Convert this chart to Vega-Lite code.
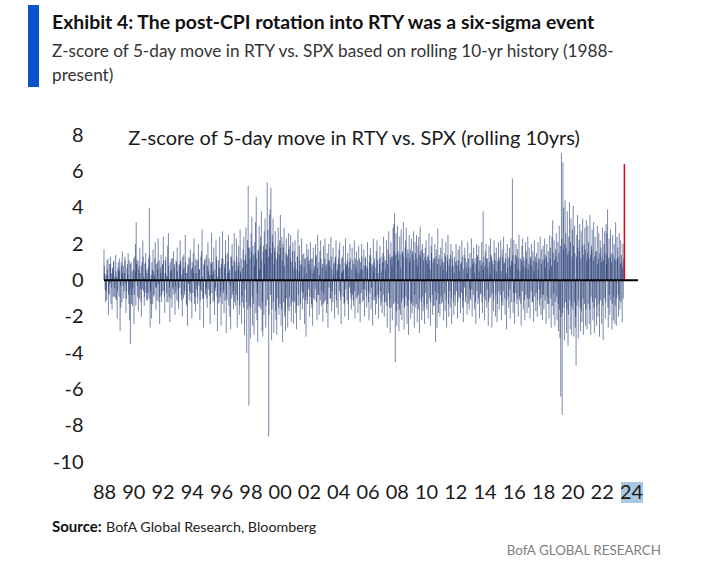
{
"$schema": "https://vega.github.io/schema/vega-lite/v6.json",
"width": 534, "height": 327,
"autosize": {"type": "none"},
"padding": {"left": 104, "top": 135, "right": 81, "bottom": 111},
"background": "white",
"config": {"view": {"stroke": null}, "font": "Lato", "axis": {"labelOverlap": false, "labelBound": false}},
"datasets": {
"z": [
{"t":1988.00,"z":1.7},{"t":1988.05,"z":0.4},{"t":1988.10,"z":-1.2},{"t":1988.15,"z":-0.6},{"t":1988.20,"z":1.1},{"t":1988.25,"z":0.3},{"t":1988.30,"z":-1.9},{"t":1988.35,"z":-0.8},{"t":1988.40,"z":0.9},{"t":1988.45,"z":1.3},{"t":1988.50,"z":-0.4},{"t":1988.55,"z":-1.6},{"t":1988.60,"z":0.6},{"t":1988.65,"z":1.0},{"t":1988.70,"z":-0.9},{"t":1988.75,"z":0.2},{"t":1988.80,"z":1.4},{"t":1988.85,"z":-1.1},{"t":1988.90,"z":-2.1},{"t":1988.95,"z":0.7},
{"t":1989.00,"z":0.5},{"t":1989.05,"z":1.2},{"t":1989.10,"z":-2.8},{"t":1989.15,"z":-1.5},{"t":1989.20,"z":0.8},{"t":1989.25,"z":1.6},{"t":1989.30,"z":-0.3},{"t":1989.35,"z":-1.0},{"t":1989.40,"z":0.4},{"t":1989.45,"z":1.1},{"t":1989.50,"z":-1.8},{"t":1989.55,"z":-0.6},{"t":1989.60,"z":0.9},{"t":1989.65,"z":1.5},{"t":1989.70,"z":-1.3},{"t":1989.75,"z":-2.2},{"t":1989.80,"z":-3.5},{"t":1989.85,"z":1.0},{"t":1989.90,"z":-0.8},{"t":1989.95,"z":-1.4},
{"t":1990.00,"z":0.6},{"t":1990.05,"z":-2.4},{"t":1990.10,"z":1.3},{"t":1990.15,"z":2.0},{"t":1990.20,"z":3.2},{"t":1990.25,"z":1.1},{"t":1990.30,"z":-0.9},{"t":1990.35,"z":-1.7},{"t":1990.40,"z":0.8},{"t":1990.45,"z":1.8},{"t":1990.50,"z":-0.5},{"t":1990.55,"z":-2.0},{"t":1990.60,"z":1.0},{"t":1990.65,"z":2.2},{"t":1990.70,"z":-0.6},{"t":1990.75,"z":-1.4},{"t":1990.80,"z":0.9},{"t":1990.85,"z":1.5},{"t":1990.90,"z":-1.1},{"t":1990.95,"z":0.4},
{"t":1991.00,"z":-0.7},{"t":1991.05,"z":1.2},{"t":1991.10,"z":4.0},{"t":1991.15,"z":-2.6},{"t":1991.20,"z":-1.3},{"t":1991.25,"z":-2.1},{"t":1991.30,"z":0.6},{"t":1991.35,"z":1.7},{"t":1991.40,"z":-0.9},{"t":1991.45,"z":0.3},{"t":1991.50,"z":2.1},{"t":1991.55,"z":-1.6},{"t":1991.60,"z":-0.4},{"t":1991.65,"z":1.0},{"t":1991.70,"z":2.3},{"t":1991.75,"z":-1.2},{"t":1991.80,"z":-2.4},{"t":1991.85,"z":0.7},{"t":1991.90,"z":1.4},{"t":1991.95,"z":-0.8},
{"t":1992.00,"z":0.9},{"t":1992.05,"z":2.4},{"t":1992.10,"z":-0.6},{"t":1992.15,"z":-1.8},{"t":1992.20,"z":1.1},{"t":1992.25,"z":0.3},{"t":1992.30,"z":-1.2},{"t":1992.35,"z":1.9},{"t":1992.40,"z":2.6},{"t":1992.45,"z":-0.9},{"t":1992.50,"z":-2.3},{"t":1992.55,"z":0.5},{"t":1992.60,"z":1.2},{"t":1992.65,"z":-1.5},{"t":1992.70,"z":-0.4},{"t":1992.75,"z":1.6},{"t":1992.80,"z":0.7},{"t":1992.85,"z":-1.9},{"t":1992.90,"z":-0.7},{"t":1992.95,"z":1.0},
{"t":1993.00,"z":1.8},{"t":1993.05,"z":-0.5},{"t":1993.10,"z":-1.6},{"t":1993.15,"z":0.8},{"t":1993.20,"z":2.2},{"t":1993.25,"z":1.0},{"t":1993.30,"z":-1.1},{"t":1993.35,"z":-2.0},{"t":1993.40,"z":0.6},{"t":1993.45,"z":1.4},{"t":1993.50,"z":-0.8},{"t":1993.55,"z":2.5},{"t":1993.60,"z":0.4},{"t":1993.65,"z":-1.4},{"t":1993.70,"z":-2.5},{"t":1993.75,"z":0.9},{"t":1993.80,"z":1.3},{"t":1993.85,"z":-0.6},{"t":1993.90,"z":1.7},{"t":1993.95,"z":-1.2},
{"t":1994.00,"z":-2.1},{"t":1994.05,"z":0.7},{"t":1994.10,"z":1.5},{"t":1994.15,"z":2.3},{"t":1994.20,"z":-0.9},{"t":1994.25,"z":-1.7},{"t":1994.30,"z":0.4},{"t":1994.35,"z":1.1},{"t":1994.40,"z":-1.3},{"t":1994.45,"z":2.0},{"t":1994.50,"z":0.6},{"t":1994.55,"z":-2.2},{"t":1994.60,"z":-0.5},{"t":1994.65,"z":1.6},{"t":1994.70,"z":2.8},{"t":1994.75,"z":-1.0},{"t":1994.80,"z":-2.6},{"t":1994.85,"z":0.8},{"t":1994.90,"z":1.2},{"t":1994.95,"z":-0.7},
{"t":1995.00,"z":1.4},{"t":1995.05,"z":-1.5},{"t":1995.10,"z":2.1},{"t":1995.15,"z":0.5},{"t":1995.20,"z":-0.8},{"t":1995.25,"z":-2.4},{"t":1995.30,"z":1.0},{"t":1995.35,"z":2.6},{"t":1995.40,"z":0.3},{"t":1995.45,"z":-1.2},{"t":1995.50,"z":1.8},{"t":1995.55,"z":-1.9},{"t":1995.60,"z":-0.6},{"t":1995.65,"z":2.2},{"t":1995.70,"z":1.1},{"t":1995.75,"z":-2.8},{"t":1995.80,"z":-1.3},{"t":1995.85,"z":0.7},{"t":1995.90,"z":2.4},{"t":1995.95,"z":-0.9},
{"t":1996.00,"z":-2.5},{"t":1996.05,"z":1.2},{"t":1996.10,"z":2.7},{"t":1996.15,"z":-0.7},{"t":1996.20,"z":-1.8},{"t":1996.25,"z":0.9},{"t":1996.30,"z":2.2},{"t":1996.35,"z":-2.9},{"t":1996.40,"z":-1.1},{"t":1996.45,"z":1.5},{"t":1996.50,"z":2.5},{"t":1996.55,"z":0.4},{"t":1996.60,"z":-2.0},{"t":1996.65,"z":-2.7},{"t":1996.70,"z":1.3},{"t":1996.75,"z":2.0},{"t":1996.80,"z":-0.8},{"t":1996.85,"z":-1.6},{"t":1996.90,"z":2.6},{"t":1996.95,"z":1.0},
{"t":1997.00,"z":-1.4},{"t":1997.05,"z":2.3},{"t":1997.10,"z":-2.6},{"t":1997.15,"z":0.8},{"t":1997.20,"z":1.9},{"t":1997.25,"z":-1.9},{"t":1997.30,"z":2.8},{"t":1997.35,"z":0.5},{"t":1997.40,"z":-2.4},{"t":1997.45,"z":-1.2},{"t":1997.50,"z":1.7},{"t":1997.55,"z":2.4},{"t":1997.60,"z":-3.0},{"t":1997.65,"z":1.1},{"t":1997.70,"z":2.9},{"t":1997.75,"z":-4.0},{"t":1997.80,"z":2.2},{"t":1997.85,"z":5.2},{"t":1997.90,"z":-6.9},{"t":1997.95,"z":1.8},
{"t":1998.00,"z":-3.2},{"t":1998.05,"z":2.6},{"t":1998.10,"z":3.5},{"t":1998.15,"z":-2.5},{"t":1998.20,"z":1.4},{"t":1998.25,"z":-3.0},{"t":1998.30,"z":2.1},{"t":1998.35,"z":3.2},{"t":1998.40,"z":4.6},{"t":1998.45,"z":-2.2},{"t":1998.50,"z":-3.4},{"t":1998.55,"z":1.6},{"t":1998.60,"z":3.0},{"t":1998.65,"z":-1.5},{"t":1998.70,"z":2.4},{"t":1998.75,"z":3.8},{"t":1998.80,"z":-2.8},{"t":1998.85,"z":-3.1},{"t":1998.90,"z":1.9},{"t":1998.95,"z":2.7},
{"t":1999.00,"z":3.4},{"t":1999.05,"z":-2.6},{"t":1999.10,"z":1.7},{"t":1999.15,"z":5.4},{"t":1999.20,"z":2.8},{"t":1999.25,"z":-8.6},{"t":1999.30,"z":3.6},{"t":1999.35,"z":3.9},{"t":1999.40,"z":5.1},{"t":1999.45,"z":-3.3},{"t":1999.50,"z":2.5},{"t":1999.55,"z":3.4},{"t":1999.60,"z":-2.9},{"t":1999.65,"z":1.8},{"t":1999.70,"z":2.7},{"t":1999.75,"z":-2.2},{"t":1999.80,"z":-3.0},{"t":1999.85,"z":1.5},{"t":1999.90,"z":2.9},{"t":1999.95,"z":-1.9},
{"t":2000.00,"z":2.2},{"t":2000.05,"z":3.6},{"t":2000.10,"z":-2.5},{"t":2000.15,"z":2.4},{"t":2000.20,"z":-3.4},{"t":2000.25,"z":1.8},{"t":2000.30,"z":2.9},{"t":2000.35,"z":-2.0},{"t":2000.40,"z":-2.8},{"t":2000.45,"z":2.3},{"t":2000.50,"z":1.4},{"t":2000.55,"z":-2.6},{"t":2000.60,"z":2.6},{"t":2000.65,"z":-1.7},{"t":2000.70,"z":1.9},{"t":2000.75,"z":2.5},{"t":2000.80,"z":-2.3},{"t":2000.85,"z":-1.2},{"t":2000.90,"z":2.1},{"t":2000.95,"z":-2.4},
{"t":2001.00,"z":1.6},{"t":2001.05,"z":2.2},{"t":2001.10,"z":-1.8},{"t":2001.15,"z":-2.7},{"t":2001.20,"z":1.3},{"t":2001.25,"z":2.8},{"t":2001.30,"z":-1.4},{"t":2001.35,"z":1.9},{"t":2001.40,"z":-2.2},{"t":2001.45,"z":0.8},{"t":2001.50,"z":2.3},{"t":2001.55,"z":-1.6},{"t":2001.60,"z":-0.7},{"t":2001.65,"z":1.5},{"t":2001.70,"z":-2.4},{"t":2001.75,"z":1.2},{"t":2001.80,"z":-3.1},{"t":2001.85,"z":2.0},{"t":2001.90,"z":-1.3},{"t":2001.95,"z":1.7},
{"t":2002.00,"z":0.9},{"t":2002.05,"z":-2.0},{"t":2002.10,"z":2.1},{"t":2002.15,"z":1.2},{"t":2002.20,"z":-1.5},{"t":2002.25,"z":-2.5},{"t":2002.30,"z":1.8},{"t":2002.35,"z":0.6},{"t":2002.40,"z":-1.1},{"t":2002.45,"z":2.0},{"t":2002.50,"z":1.4},{"t":2002.55,"z":-2.2},{"t":2002.60,"z":2.5},{"t":2002.65,"z":-0.8},{"t":2002.70,"z":-1.9},{"t":2002.75,"z":1.6},{"t":2002.80,"z":2.2},{"t":2002.85,"z":-1.4},{"t":2002.90,"z":0.7},{"t":2002.95,"z":-2.3},
{"t":2003.00,"z":1.9},{"t":2003.05,"z":-1.2},{"t":2003.10,"z":2.3},{"t":2003.15,"z":0.8},{"t":2003.20,"z":-1.8},{"t":2003.25,"z":1.5},{"t":2003.30,"z":-2.6},{"t":2003.35,"z":2.0},{"t":2003.40,"z":1.1},{"t":2003.45,"z":-1.0},{"t":2003.50,"z":2.4},{"t":2003.55,"z":-1.7},{"t":2003.60,"z":-0.6},{"t":2003.65,"z":1.8},{"t":2003.70,"z":0.9},{"t":2003.75,"z":-2.1},{"t":2003.80,"z":1.3},{"t":2003.85,"z":2.2},{"t":2003.90,"z":-1.5},{"t":2003.95,"z":0.6},
{"t":2004.00,"z":-1.9},{"t":2004.05,"z":1.7},{"t":2004.10,"z":2.1},{"t":2004.15,"z":-0.8},{"t":2004.20,"z":-2.4},{"t":2004.25,"z":1.2},{"t":2004.30,"z":0.5},{"t":2004.35,"z":1.9},{"t":2004.40,"z":-1.3},{"t":2004.45,"z":-2.0},{"t":2004.50,"z":2.3},{"t":2004.55,"z":0.9},{"t":2004.60,"z":-1.1},{"t":2004.65,"z":1.5},{"t":2004.70,"z":-2.2},{"t":2004.75,"z":1.0},{"t":2004.80,"z":2.0},{"t":2004.85,"z":-0.7},{"t":2004.90,"z":-1.6},{"t":2004.95,"z":1.8},
{"t":2005.00,"z":1.1},{"t":2005.05,"z":-1.4},{"t":2005.10,"z":2.2},{"t":2005.15,"z":-2.1},{"t":2005.20,"z":0.7},{"t":2005.25,"z":1.6},{"t":2005.30,"z":-0.9},{"t":2005.35,"z":-1.8},{"t":2005.40,"z":1.9},{"t":2005.45,"z":1.2},{"t":2005.50,"z":-2.3},{"t":2005.55,"z":0.6},{"t":2005.60,"z":2.0},{"t":2005.65,"z":-1.2},{"t":2005.70,"z":-0.5},{"t":2005.75,"z":1.7},{"t":2005.80,"z":-2.0},{"t":2005.85,"z":1.3},{"t":2005.90,"z":0.8},{"t":2005.95,"z":-1.5},
{"t":2006.00,"z":2.1},{"t":2006.05,"z":-0.6},{"t":2006.10,"z":-2.2},{"t":2006.15,"z":1.4},{"t":2006.20,"z":1.8},{"t":2006.25,"z":-1.6},{"t":2006.30,"z":0.9},{"t":2006.35,"z":-2.5},{"t":2006.40,"z":2.3},{"t":2006.45,"z":1.0},{"t":2006.50,"z":-1.1},{"t":2006.55,"z":-1.9},{"t":2006.60,"z":1.6},{"t":2006.65,"z":2.2},{"t":2006.70,"z":-0.8},{"t":2006.75,"z":-2.1},{"t":2006.80,"z":1.2},{"t":2006.85,"z":1.9},{"t":2006.90,"z":-1.4},{"t":2006.95,"z":0.5},
{"t":2007.00,"z":-1.8},{"t":2007.05,"z":1.5},{"t":2007.10,"z":2.4},{"t":2007.15,"z":-2.0},{"t":2007.20,"z":1.1},{"t":2007.25,"z":-1.2},{"t":2007.30,"z":2.2},{"t":2007.35,"z":-2.6},{"t":2007.40,"z":1.7},{"t":2007.45,"z":2.7},{"t":2007.50,"z":-1.5},{"t":2007.55,"z":-2.9},{"t":2007.60,"z":2.1},{"t":2007.65,"z":1.3},{"t":2007.70,"z":-2.2},{"t":2007.75,"z":2.9},{"t":2007.80,"z":3.1},{"t":2007.85,"z":3.7},{"t":2007.90,"z":-4.5},{"t":2007.95,"z":2.6},
{"t":2008.00,"z":-2.5},{"t":2008.05,"z":3.0},{"t":2008.10,"z":1.6},{"t":2008.15,"z":-2.8},{"t":2008.20,"z":2.4},{"t":2008.25,"z":-1.9},{"t":2008.30,"z":2.8},{"t":2008.35,"z":-2.2},{"t":2008.40,"z":1.5},{"t":2008.45,"z":3.2},{"t":2008.50,"z":-2.7},{"t":2008.55,"z":-1.4},{"t":2008.60,"z":2.2},{"t":2008.65,"z":2.9},{"t":2008.70,"z":-2.4},{"t":2008.75,"z":1.7},{"t":2008.80,"z":-3.0},{"t":2008.85,"z":2.5},{"t":2008.90,"z":1.2},{"t":2008.95,"z":-2.1},
{"t":2009.00,"z":2.3},{"t":2009.05,"z":-1.8},{"t":2009.10,"z":1.4},{"t":2009.15,"z":2.7},{"t":2009.20,"z":-2.6},{"t":2009.25,"z":2.1},{"t":2009.30,"z":-1.5},{"t":2009.35,"z":2.5},{"t":2009.40,"z":-2.3},{"t":2009.45,"z":1.9},{"t":2009.50,"z":2.4},{"t":2009.55,"z":-2.9},{"t":2009.60,"z":2.95},{"t":2009.65,"z":1.6},{"t":2009.70,"z":-2.2},{"t":2009.75,"z":2.0},{"t":2009.80,"z":-1.7},{"t":2009.85,"z":1.5},{"t":2009.90,"z":-2.4},{"t":2009.95,"z":1.8},
{"t":2010.00,"z":2.2},{"t":2010.05,"z":-1.6},{"t":2010.10,"z":1.3},{"t":2010.15,"z":-2.1},{"t":2010.20,"z":2.6},{"t":2010.25,"z":1.1},{"t":2010.30,"z":-2.5},{"t":2010.35,"z":1.9},{"t":2010.40,"z":2.4},{"t":2010.45,"z":-1.9},{"t":2010.50,"z":1.2},{"t":2010.55,"z":-1.4},{"t":2010.60,"z":2.0},{"t":2010.65,"z":-3.4},{"t":2010.70,"z":1.7},{"t":2010.75,"z":-2.6},{"t":2010.80,"z":2.85},{"t":2010.85,"z":-1.8},{"t":2010.90,"z":1.4},{"t":2010.95,"z":-2.0},
{"t":2011.00,"z":1.8},{"t":2011.05,"z":-1.3},{"t":2011.10,"z":2.3},{"t":2011.15,"z":1.0},{"t":2011.20,"z":-2.2},{"t":2011.25,"z":1.5},{"t":2011.30,"z":-1.7},{"t":2011.35,"z":2.1},{"t":2011.40,"z":-2.6},{"t":2011.45,"z":1.4},{"t":2011.50,"z":2.5},{"t":2011.55,"z":-2.0},{"t":2011.60,"z":1.2},{"t":2011.65,"z":-1.5},{"t":2011.70,"z":2.0},{"t":2011.75,"z":-2.4},{"t":2011.80,"z":1.6},{"t":2011.85,"z":0.8},{"t":2011.90,"z":-1.9},{"t":2011.95,"z":1.3},
{"t":2012.00,"z":-1.4},{"t":2012.05,"z":2.0},{"t":2012.10,"z":1.1},{"t":2012.15,"z":-2.1},{"t":2012.20,"z":1.7},{"t":2012.25,"z":-0.9},{"t":2012.30,"z":1.9},{"t":2012.35,"z":-1.8},{"t":2012.40,"z":1.0},{"t":2012.45,"z":2.2},{"t":2012.50,"z":-1.5},{"t":2012.55,"z":-2.3},{"t":2012.60,"z":1.4},{"t":2012.65,"z":1.8},{"t":2012.70,"z":-1.2},{"t":2012.75,"z":0.7},{"t":2012.80,"z":-1.9},{"t":2012.85,"z":2.1},{"t":2012.90,"z":1.2},{"t":2012.95,"z":-1.6},
{"t":2013.00,"z":1.5},{"t":2013.05,"z":-1.1},{"t":2013.10,"z":2.3},{"t":2013.15,"z":-2.0},{"t":2013.20,"z":0.9},{"t":2013.25,"z":1.8},{"t":2013.30,"z":-1.6},{"t":2013.35,"z":1.2},{"t":2013.40,"z":-2.4},{"t":2013.45,"z":2.0},{"t":2013.50,"z":1.4},{"t":2013.55,"z":-1.3},{"t":2013.60,"z":1.9},{"t":2013.65,"z":-2.1},{"t":2013.70,"z":1.1},{"t":2013.75,"z":-0.8},{"t":2013.80,"z":2.1},{"t":2013.85,"z":-1.8},{"t":2013.90,"z":3.8},{"t":2013.95,"z":1.3},
{"t":2014.00,"z":-2.2},{"t":2014.05,"z":1.6},{"t":2014.10,"z":2.0},{"t":2014.15,"z":-1.5},{"t":2014.20,"z":1.2},{"t":2014.25,"z":-2.5},{"t":2014.30,"z":1.9},{"t":2014.35,"z":-1.0},{"t":2014.40,"z":2.3},{"t":2014.45,"z":1.4},{"t":2014.50,"z":-2.6},{"t":2014.55,"z":1.1},{"t":2014.60,"z":-1.7},{"t":2014.65,"z":2.2},{"t":2014.70,"z":1.5},{"t":2014.75,"z":-2.0},{"t":2014.80,"z":1.8},{"t":2014.85,"z":-2.3},{"t":2014.90,"z":1.0},{"t":2014.95,"z":2.1},
{"t":2015.00,"z":-1.6},{"t":2015.05,"z":1.3},{"t":2015.10,"z":2.2},{"t":2015.15,"z":-2.2},{"t":2015.20,"z":1.7},{"t":2015.25,"z":-1.4},{"t":2015.30,"z":2.4},{"t":2015.35,"z":1.0},{"t":2015.40,"z":-1.9},{"t":2015.45,"z":1.5},{"t":2015.50,"z":-2.7},{"t":2015.55,"z":2.0},{"t":2015.60,"z":1.2},{"t":2015.65,"z":-1.5},{"t":2015.70,"z":1.8},{"t":2015.75,"z":-2.1},{"t":2015.80,"z":2.3},{"t":2015.85,"z":1.1},{"t":2015.90,"z":5.6},{"t":2015.95,"z":-1.8},
{"t":2016.00,"z":2.2},{"t":2016.05,"z":-2.4},{"t":2016.10,"z":1.4},{"t":2016.15,"z":2.0},{"t":2016.20,"z":-1.3},{"t":2016.25,"z":1.7},{"t":2016.30,"z":-2.0},{"t":2016.35,"z":2.5},{"t":2016.40,"z":-1.1},{"t":2016.45,"z":1.2},{"t":2016.50,"z":-2.5},{"t":2016.55,"z":1.9},{"t":2016.60,"z":2.3},{"t":2016.65,"z":-1.6},{"t":2016.70,"z":1.1},{"t":2016.75,"z":-2.2},{"t":2016.80,"z":2.1},{"t":2016.85,"z":1.6},{"t":2016.90,"z":-1.8},{"t":2016.95,"z":2.4},
{"t":2017.00,"z":-1.5},{"t":2017.05,"z":1.8},{"t":2017.10,"z":-2.1},{"t":2017.15,"z":1.3},{"t":2017.20,"z":2.0},{"t":2017.25,"z":-1.2},{"t":2017.30,"z":1.6},{"t":2017.35,"z":-2.3},{"t":2017.40,"z":2.2},{"t":2017.45,"z":1.0},{"t":2017.50,"z":-1.7},{"t":2017.55,"z":1.5},{"t":2017.60,"z":-2.0},{"t":2017.65,"z":2.1},{"t":2017.70,"z":1.2},{"t":2017.75,"z":-1.4},{"t":2017.80,"z":2.4},{"t":2017.85,"z":-1.9},{"t":2017.90,"z":1.7},{"t":2017.95,"z":-2.2},
{"t":2018.00,"z":1.9},{"t":2018.05,"z":-1.6},{"t":2018.10,"z":2.3},{"t":2018.15,"z":1.4},{"t":2018.20,"z":-2.4},{"t":2018.25,"z":2.0},{"t":2018.30,"z":-1.3},{"t":2018.35,"z":1.6},{"t":2018.40,"z":-2.1},{"t":2018.45,"z":2.5},{"t":2018.50,"z":1.8},{"t":2018.55,"z":-2.6},{"t":2018.60,"z":2.4},{"t":2018.65,"z":3.3},{"t":2018.70,"z":-1.9},{"t":2018.75,"z":2.2},{"t":2018.80,"z":-2.5},{"t":2018.85,"z":1.7},{"t":2018.90,"z":2.6},{"t":2018.95,"z":-2.2},
{"t":2019.00,"z":2.1},{"t":2019.05,"z":-2.8},{"t":2019.10,"z":3.0},{"t":2019.15,"z":-3.2},{"t":2019.20,"z":-6.4},{"t":2019.25,"z":7.0},{"t":2019.30,"z":-7.4},{"t":2019.35,"z":6.5},{"t":2019.40,"z":4.0},{"t":2019.45,"z":-3.3},{"t":2019.50,"z":4.4},{"t":2019.55,"z":2.6},{"t":2019.60,"z":-2.9},{"t":2019.65,"z":3.8},{"t":2019.70,"z":-3.6},{"t":2019.75,"z":2.4},{"t":2019.80,"z":4.3},{"t":2019.85,"z":-2.7},{"t":2019.90,"z":3.4},{"t":2019.95,"z":-3.0},
{"t":2020.00,"z":2.8},{"t":2020.05,"z":4.1},{"t":2020.10,"z":-3.1},{"t":2020.15,"z":3.0},{"t":2020.20,"z":-2.6},{"t":2020.25,"z":-4.7},{"t":2020.30,"z":2.5},{"t":2020.35,"z":3.6},{"t":2020.40,"z":-3.2},{"t":2020.45,"z":2.2},{"t":2020.50,"z":3.1},{"t":2020.55,"z":-2.8},{"t":2020.60,"z":2.7},{"t":2020.65,"z":-2.3},{"t":2020.70,"z":3.4},{"t":2020.75,"z":-3.0},{"t":2020.80,"z":2.0},{"t":2020.85,"z":2.9},{"t":2020.90,"z":-2.5},{"t":2020.95,"z":3.3},
{"t":2021.00,"z":-2.7},{"t":2021.05,"z":3.0},{"t":2021.10,"z":2.1},{"t":2021.15,"z":-2.4},{"t":2021.20,"z":3.6},{"t":2021.25,"z":-3.0},{"t":2021.30,"z":1.9},{"t":2021.35,"z":2.8},{"t":2021.40,"z":-2.2},{"t":2021.45,"z":3.2},{"t":2021.50,"z":-2.9},{"t":2021.55,"z":2.4},{"t":2021.60,"z":1.6},{"t":2021.65,"z":-2.5},{"t":2021.70,"z":3.0},{"t":2021.75,"z":-2.0},{"t":2021.80,"z":2.6},{"t":2021.85,"z":-3.1},{"t":2021.90,"z":2.2},{"t":2021.95,"z":1.8},
{"t":2022.00,"z":-2.4},{"t":2022.05,"z":2.9},{"t":2022.10,"z":-3.3},{"t":2022.15,"z":2.0},{"t":2022.20,"z":2.7},{"t":2022.25,"z":-2.1},{"t":2022.30,"z":3.1},{"t":2022.35,"z":2.6},{"t":2022.40,"z":3.9},{"t":2022.45,"z":-2.6},{"t":2022.50,"z":2.3},{"t":2022.55,"z":-1.9},{"t":2022.60,"z":2.8},{"t":2022.65,"z":1.5},{"t":2022.70,"z":-2.7},{"t":2022.75,"z":2.5},{"t":2022.80,"z":-2.2},{"t":2022.85,"z":2.0},{"t":2022.90,"z":-2.4},{"t":2022.95,"z":3.2},
{"t":2023.00,"z":-2.5},{"t":2023.05,"z":2.4},{"t":2023.10,"z":1.8},{"t":2023.15,"z":-2.0},{"t":2023.20,"z":2.6},{"t":2023.25,"z":-1.6},{"t":2023.30,"z":2.2},{"t":2023.35,"z":1.4},{"t":2023.40,"z":-2.3},{"t":2023.45,"z":2.0},{"t":2023.50,"z":1.2},
{"t":1988.025,"z":0.8},{"t":1988.075,"z":-0.5},{"t":1988.125,"z":0.3},{"t":1988.175,"z":-1.1},{"t":1988.225,"z":0.6},{"t":1988.275,"z":1.2},{"t":1988.325,"z":-0.7},{"t":1988.375,"z":-0.2},{"t":1988.425,"z":0.9},{"t":1988.475,"z":-1.3},{"t":1988.525,"z":0.4},{"t":1988.575,"z":0.7},{"t":1988.625,"z":-0.9},{"t":1988.675,"z":1.1},{"t":1988.725,"z":-0.4},{"t":1988.775,"z":-1.0},{"t":1988.825,"z":0.5},{"t":1988.875,"z":0.2},{"t":1988.925,"z":-0.6},{"t":1988.975,"z":1.0},
{"t":1989.025,"z":-0.9},{"t":1989.075,"z":0.6},{"t":1989.125,"z":-0.3},{"t":1989.175,"z":1.0},{"t":1989.225,"z":-1.2},{"t":1989.275,"z":0.4},{"t":1989.325,"z":0.8},{"t":1989.375,"z":-0.6},{"t":1989.425,"z":1.3},{"t":1989.475,"z":-0.2},{"t":1989.525,"z":-1.0},{"t":1989.575,"z":0.7},{"t":1989.625,"z":0.3},{"t":1989.675,"z":-0.8},{"t":1989.725,"z":1.1},{"t":1989.775,"z":-0.5},{"t":1989.825,"z":0.9},{"t":1989.875,"z":-1.3},{"t":1989.925,"z":0.5},{"t":1989.975,"z":-0.4},
{"t":1990.025,"z":1.2},{"t":1990.075,"z":-0.8},{"t":1990.125,"z":0.5},{"t":1990.175,"z":-1.4},{"t":1990.225,"z":0.9},{"t":1990.275,"z":-0.3},{"t":1990.325,"z":1.1},{"t":1990.375,"z":0.6},{"t":1990.425,"z":-1.0},{"t":1990.475,"z":0.4},{"t":1990.525,"z":-1.2},{"t":1990.575,"z":0.8},{"t":1990.625,"z":-0.5},{"t":1990.675,"z":1.3},{"t":1990.725,"z":0.2},{"t":1990.775,"z":-0.9},{"t":1990.825,"z":1.0},{"t":1990.875,"z":-0.7},{"t":1990.925,"z":0.6},{"t":1990.975,"z":-1.1},
{"t":1991.025,"z":0.7},{"t":1991.075,"z":-1.0},{"t":1991.125,"z":1.4},{"t":1991.175,"z":-0.6},{"t":1991.225,"z":0.3},{"t":1991.275,"z":1.0},{"t":1991.325,"z":-1.3},{"t":1991.375,"z":0.5},{"t":1991.425,"z":-0.8},{"t":1991.475,"z":1.2},{"t":1991.525,"z":-0.4},{"t":1991.575,"z":0.9},{"t":1991.625,"z":-1.1},{"t":1991.675,"z":0.6},{"t":1991.725,"z":-0.2},{"t":1991.775,"z":1.1},{"t":1991.825,"z":-0.9},{"t":1991.875,"z":0.4},{"t":1991.925,"z":-1.2},{"t":1991.975,"z":0.8},
{"t":1992.025,"z":-0.6},{"t":1992.075,"z":1.1},{"t":1992.125,"z":-0.9},{"t":1992.175,"z":0.4},{"t":1992.225,"z":1.3},{"t":1992.275,"z":-0.7},{"t":1992.325,"z":0.2},{"t":1992.375,"z":-1.2},{"t":1992.425,"z":0.8},{"t":1992.475,"z":-0.4},{"t":1992.525,"z":1.0},{"t":1992.575,"z":-1.0},{"t":1992.625,"z":0.6},{"t":1992.675,"z":1.2},{"t":1992.725,"z":-0.5},{"t":1992.775,"z":-0.8},{"t":1992.825,"z":0.9},{"t":1992.875,"z":-0.3},{"t":1992.925,"z":1.1},{"t":1992.975,"z":-1.1},
{"t":1993.025,"z":0.5},{"t":1993.075,"z":-1.2},{"t":1993.125,"z":0.9},{"t":1993.175,"z":-0.4},{"t":1993.225,"z":1.1},{"t":1993.275,"z":-0.8},{"t":1993.325,"z":0.3},{"t":1993.375,"z":1.3},{"t":1993.425,"z":-1.0},{"t":1993.475,"z":0.7},{"t":1993.525,"z":-0.6},{"t":1993.575,"z":1.0},{"t":1993.625,"z":-1.3},{"t":1993.675,"z":0.4},{"t":1993.725,"z":0.8},{"t":1993.775,"z":-0.2},{"t":1993.825,"z":-1.1},{"t":1993.875,"z":1.2},{"t":1993.925,"z":-0.7},{"t":1993.975,"z":0.6},
{"t":1994.025,"z":1.0},{"t":1994.075,"z":-0.7},{"t":1994.125,"z":0.4},{"t":1994.175,"z":-1.3},{"t":1994.225,"z":0.8},{"t":1994.275,"z":1.2},{"t":1994.325,"z":-0.5},{"t":1994.375,"z":-0.9},{"t":1994.425,"z":1.1},{"t":1994.475,"z":-0.3},{"t":1994.525,"z":0.6},{"t":1994.575,"z":-1.1},{"t":1994.625,"z":1.3},{"t":1994.675,"z":-0.6},{"t":1994.725,"z":0.2},{"t":1994.775,"z":-1.0},{"t":1994.825,"z":0.9},{"t":1994.875,"z":1.1},{"t":1994.925,"z":-0.8},{"t":1994.975,"z":-0.4},
{"t":1995.025,"z":-1.0},{"t":1995.075,"z":0.8},{"t":1995.125,"z":-0.5},{"t":1995.175,"z":1.2},{"t":1995.225,"z":0.3},{"t":1995.275,"z":-1.3},{"t":1995.325,"z":0.9},{"t":1995.375,"z":-0.7},{"t":1995.425,"z":1.0},{"t":1995.475,"z":0.5},{"t":1995.525,"z":-1.1},{"t":1995.575,"z":0.6},{"t":1995.625,"z":-0.4},{"t":1995.675,"z":1.3},{"t":1995.725,"z":-0.9},{"t":1995.775,"z":0.2},{"t":1995.825,"z":1.1},{"t":1995.875,"z":-1.2},{"t":1995.925,"z":0.7},{"t":1995.975,"z":-0.6},
{"t":1996.025,"z":0.9},{"t":1996.075,"z":-1.3},{"t":1996.125,"z":1.2},{"t":1996.175,"z":-0.5},{"t":1996.225,"z":0.7},{"t":1996.275,"z":-1.1},{"t":1996.325,"z":1.4},{"t":1996.375,"z":-0.8},{"t":1996.425,"z":0.4},{"t":1996.475,"z":1.0},{"t":1996.525,"z":-1.4},{"t":1996.575,"z":0.6},{"t":1996.625,"z":-0.3},{"t":1996.675,"z":1.3},{"t":1996.725,"z":-1.0},{"t":1996.775,"z":0.8},{"t":1996.825,"z":-0.6},{"t":1996.875,"z":1.1},{"t":1996.925,"z":-1.2},{"t":1996.975,"z":0.5},
{"t":1997.025,"z":-0.8},{"t":1997.075,"z":1.3},{"t":1997.125,"z":-1.1},{"t":1997.175,"z":0.6},{"t":1997.225,"z":1.0},{"t":1997.275,"z":-1.4},{"t":1997.325,"z":0.4},{"t":1997.375,"z":1.2},{"t":1997.425,"z":-0.9},{"t":1997.475,"z":0.7},{"t":1997.525,"z":-1.5},{"t":1997.575,"z":1.1},{"t":1997.625,"z":-0.5},{"t":1997.675,"z":1.4},{"t":1997.725,"z":-1.2},{"t":1997.775,"z":0.9},{"t":1997.825,"z":-1.6},{"t":1997.875,"z":1.8},{"t":1997.925,"z":-1.4},{"t":1997.975,"z":1.2},
{"t":1998.025,"z":-1.5},{"t":1998.075,"z":1.6},{"t":1998.125,"z":-0.9},{"t":1998.175,"z":1.9},{"t":1998.225,"z":-1.3},{"t":1998.275,"z":0.8},{"t":1998.325,"z":1.5},{"t":1998.375,"z":-1.8},{"t":1998.425,"z":1.2},{"t":1998.475,"z":-0.7},{"t":1998.525,"z":1.7},{"t":1998.575,"z":-1.4},{"t":1998.625,"z":0.6},{"t":1998.675,"z":1.9},{"t":1998.725,"z":-1.6},{"t":1998.775,"z":1.1},{"t":1998.825,"z":-1.2},{"t":1998.875,"z":1.6},{"t":1998.925,"z":-1.9},{"t":1998.975,"z":0.9},
{"t":1999.025,"z":1.7},{"t":1999.075,"z":-1.4},{"t":1999.125,"z":2.0},{"t":1999.175,"z":-1.1},{"t":1999.225,"z":1.3},{"t":1999.275,"z":-1.9},{"t":1999.325,"z":1.8},{"t":1999.375,"z":-0.8},{"t":1999.425,"z":1.5},{"t":1999.475,"z":-1.6},{"t":1999.525,"z":2.1},{"t":1999.575,"z":-1.2},{"t":1999.625,"z":0.9},{"t":1999.675,"z":1.6},{"t":1999.725,"z":-1.7},{"t":1999.775,"z":1.2},{"t":1999.825,"z":-1.0},{"t":1999.875,"z":1.9},{"t":1999.925,"z":-1.5},{"t":1999.975,"z":1.4},
{"t":2000.025,"z":-1.3},{"t":2000.075,"z":1.8},{"t":2000.125,"z":-1.6},{"t":2000.175,"z":1.1},{"t":2000.225,"z":2.0},{"t":2000.275,"z":-1.2},{"t":2000.325,"z":0.8},{"t":2000.375,"z":-1.7},{"t":2000.425,"z":1.5},{"t":2000.475,"z":-1.0},{"t":2000.525,"z":1.3},{"t":2000.575,"z":-1.5},{"t":2000.625,"z":1.7},{"t":2000.675,"z":-0.9},{"t":2000.725,"z":1.2},{"t":2000.775,"z":-1.4},{"t":2000.825,"z":1.0},{"t":2000.875,"z":1.6},{"t":2000.925,"z":-1.1},{"t":2000.975,"z":0.7},
{"t":2001.025,"z":-1.2},{"t":2001.075,"z":1.0},{"t":2001.125,"z":0.6},{"t":2001.175,"z":-1.4},{"t":2001.225,"z":1.3},{"t":2001.275,"z":-0.8},{"t":2001.325,"z":0.5},{"t":2001.375,"z":1.1},{"t":2001.425,"z":-1.3},{"t":2001.475,"z":0.9},{"t":2001.525,"z":-0.6},{"t":2001.575,"z":1.4},{"t":2001.625,"z":-1.0},{"t":2001.675,"z":0.7},{"t":2001.725,"z":1.2},{"t":2001.775,"z":-1.1},{"t":2001.825,"z":0.4},{"t":2001.875,"z":-0.9},{"t":2001.925,"z":1.3},{"t":2001.975,"z":-0.5},
{"t":2002.025,"z":1.1},{"t":2002.075,"z":-0.9},{"t":2002.125,"z":0.6},{"t":2002.175,"z":-1.3},{"t":2002.225,"z":1.2},{"t":2002.275,"z":0.4},{"t":2002.325,"z":-1.0},{"t":2002.375,"z":0.8},{"t":2002.425,"z":-0.5},{"t":2002.475,"z":1.3},{"t":2002.525,"z":-1.2},{"t":2002.575,"z":0.7},{"t":2002.625,"z":-0.8},{"t":2002.675,"z":1.0},{"t":2002.725,"z":0.3},{"t":2002.775,"z":-1.1},{"t":2002.825,"z":1.2},{"t":2002.875,"z":-0.6},{"t":2002.925,"z":0.9},{"t":2002.975,"z":-1.3},
{"t":2003.025,"z":-0.7},{"t":2003.075,"z":1.2},{"t":2003.125,"z":-1.1},{"t":2003.175,"z":0.5},{"t":2003.225,"z":0.9},{"t":2003.275,"z":-1.3},{"t":2003.325,"z":1.1},{"t":2003.375,"z":-0.4},{"t":2003.425,"z":0.8},{"t":2003.475,"z":-1.0},{"t":2003.525,"z":1.3},{"t":2003.575,"z":0.6},{"t":2003.625,"z":-1.2},{"t":2003.675,"z":0.3},{"t":2003.725,"z":1.0},{"t":2003.775,"z":-0.8},{"t":2003.825,"z":1.2},{"t":2003.875,"z":-1.1},{"t":2003.925,"z":0.5},{"t":2003.975,"z":0.9},
{"t":2004.025,"z":1.2},{"t":2004.075,"z":-0.6},{"t":2004.125,"z":0.9},{"t":2004.175,"z":-1.1},{"t":2004.225,"z":0.4},{"t":2004.275,"z":1.3},{"t":2004.325,"z":-0.9},{"t":2004.375,"z":0.6},{"t":2004.425,"z":-1.2},{"t":2004.475,"z":1.0},{"t":2004.525,"z":-0.5},{"t":2004.575,"z":0.8},{"t":2004.625,"z":1.1},{"t":2004.675,"z":-1.3},{"t":2004.725,"z":0.7},{"t":2004.775,"z":-0.4},{"t":2004.825,"z":1.2},{"t":2004.875,"z":-1.0},{"t":2004.925,"z":0.6},{"t":2004.975,"z":-0.8},
{"t":2005.025,"z":-1.1},{"t":2005.075,"z":0.9},{"t":2005.125,"z":-0.6},{"t":2005.175,"z":1.2},{"t":2005.225,"z":-1.0},{"t":2005.275,"z":0.5},{"t":2005.325,"z":1.1},{"t":2005.375,"z":-0.8},{"t":2005.425,"z":0.4},{"t":2005.475,"z":-1.3},{"t":2005.525,"z":1.0},{"t":2005.575,"z":-0.7},{"t":2005.625,"z":1.3},{"t":2005.675,"z":0.6},{"t":2005.725,"z":-1.1},{"t":2005.775,"z":0.8},{"t":2005.825,"z":-0.5},{"t":2005.875,"z":1.2},{"t":2005.925,"z":-0.9},{"t":2005.975,"z":0.7},
{"t":2006.025,"z":0.6},{"t":2006.075,"z":-1.2},{"t":2006.125,"z":1.0},{"t":2006.175,"z":-0.7},{"t":2006.225,"z":1.3},{"t":2006.275,"z":-0.4},{"t":2006.325,"z":0.8},{"t":2006.375,"z":-1.1},{"t":2006.425,"z":0.5},{"t":2006.475,"z":1.2},{"t":2006.525,"z":-0.9},{"t":2006.575,"z":0.7},{"t":2006.625,"z":-1.3},{"t":2006.675,"z":1.1},{"t":2006.725,"z":0.4},{"t":2006.775,"z":-1.0},{"t":2006.825,"z":0.9},{"t":2006.875,"z":-0.6},{"t":2006.925,"z":1.3},{"t":2006.975,"z":-1.2},
{"t":2007.025,"z":1.0},{"t":2007.075,"z":-0.8},{"t":2007.125,"z":1.3},{"t":2007.175,"z":-1.2},{"t":2007.225,"z":0.6},{"t":2007.275,"z":1.1},{"t":2007.325,"z":-1.4},{"t":2007.375,"z":0.9},{"t":2007.425,"z":-0.7},{"t":2007.475,"z":1.4},{"t":2007.525,"z":-1.1},{"t":2007.575,"z":1.2},{"t":2007.625,"z":-1.5},{"t":2007.675,"z":0.8},{"t":2007.725,"z":1.3},{"t":2007.775,"z":-1.3},{"t":2007.825,"z":1.6},{"t":2007.875,"z":-1.2},{"t":2007.925,"z":1.4},{"t":2007.975,"z":-1.7},
{"t":2008.025,"z":1.5},{"t":2008.075,"z":-1.3},{"t":2008.125,"z":1.1},{"t":2008.175,"z":-1.6},{"t":2008.225,"z":1.4},{"t":2008.275,"z":0.7},{"t":2008.325,"z":-1.2},{"t":2008.375,"z":1.6},{"t":2008.425,"z":-1.0},{"t":2008.475,"z":1.3},{"t":2008.525,"z":-1.5},{"t":2008.575,"z":1.8},{"t":2008.625,"z":-0.9},{"t":2008.675,"z":1.2},{"t":2008.725,"z":-1.4},{"t":2008.775,"z":1.5},{"t":2008.825,"z":-1.1},{"t":2008.875,"z":1.0},{"t":2008.925,"z":1.7},{"t":2008.975,"z":-1.3},
{"t":2009.025,"z":-1.2},{"t":2009.075,"z":1.6},{"t":2009.125,"z":-1.4},{"t":2009.175,"z":1.1},{"t":2009.225,"z":-0.8},{"t":2009.275,"z":1.5},{"t":2009.325,"z":-1.3},{"t":2009.375,"z":1.2},{"t":2009.425,"z":0.8},{"t":2009.475,"z":-1.6},{"t":2009.525,"z":1.4},{"t":2009.575,"z":-1.0},{"t":2009.625,"z":1.3},{"t":2009.675,"z":-1.2},{"t":2009.725,"z":1.7},{"t":2009.775,"z":-0.9},{"t":2009.825,"z":1.1},{"t":2009.875,"z":-1.4},{"t":2009.925,"z":1.3},{"t":2009.975,"z":-0.7},
{"t":2010.025,"z":1.1},{"t":2010.075,"z":-1.3},{"t":2010.125,"z":0.9},{"t":2010.175,"z":1.4},{"t":2010.225,"z":-1.0},{"t":2010.275,"z":0.6},{"t":2010.325,"z":-1.2},{"t":2010.375,"z":1.5},{"t":2010.425,"z":-0.8},{"t":2010.475,"z":1.0},{"t":2010.525,"z":-1.4},{"t":2010.575,"z":1.2},{"t":2010.625,"z":-0.6},{"t":2010.675,"z":1.3},{"t":2010.725,"z":-1.1},{"t":2010.775,"z":0.9},{"t":2010.825,"z":-0.7},{"t":2010.875,"z":1.2},{"t":2010.925,"z":-1.3},{"t":2010.975,"z":0.8},
{"t":2011.025,"z":-0.9},{"t":2011.075,"z":1.2},{"t":2011.125,"z":-1.2},{"t":2011.175,"z":0.6},{"t":2011.225,"z":1.0},{"t":2011.275,"z":-0.7},{"t":2011.325,"z":1.3},{"t":2011.375,"z":-1.1},{"t":2011.425,"z":0.5},{"t":2011.475,"z":1.1},{"t":2011.525,"z":-1.3},{"t":2011.575,"z":0.8},{"t":2011.625,"z":-0.6},{"t":2011.675,"z":1.4},{"t":2011.725,"z":-1.0},{"t":2011.775,"z":0.7},{"t":2011.825,"z":1.2},{"t":2011.875,"z":-1.2},{"t":2011.925,"z":0.4},{"t":2011.975,"z":-0.8},
{"t":2012.025,"z":1.0},{"t":2012.075,"z":-0.6},{"t":2012.125,"z":0.8},{"t":2012.175,"z":-1.2},{"t":2012.225,"z":1.1},{"t":2012.275,"z":0.5},{"t":2012.325,"z":-1.0},{"t":2012.375,"z":0.9},{"t":2012.425,"z":-0.7},{"t":2012.475,"z":1.3},{"t":2012.525,"z":-1.1},{"t":2012.575,"z":0.6},{"t":2012.625,"z":-0.4},{"t":2012.675,"z":1.2},{"t":2012.725,"z":-0.9},{"t":2012.775,"z":1.0},{"t":2012.825,"z":0.4},{"t":2012.875,"z":-1.3},{"t":2012.925,"z":0.7},{"t":2012.975,"z":-0.5},
{"t":2013.025,"z":-1.0},{"t":2013.075,"z":0.7},{"t":2013.125,"z":-0.5},{"t":2013.175,"z":1.2},{"t":2013.225,"z":-0.8},{"t":2013.275,"z":1.0},{"t":2013.325,"z":0.4},{"t":2013.375,"z":-1.2},{"t":2013.425,"z":0.9},{"t":2013.475,"z":-0.6},{"t":2013.525,"z":1.3},{"t":2013.575,"z":-1.0},{"t":2013.625,"z":0.5},{"t":2013.675,"z":1.1},{"t":2013.725,"z":-0.7},{"t":2013.775,"z":0.8},{"t":2013.825,"z":-1.2},{"t":2013.875,"z":1.0},{"t":2013.925,"z":0.6},{"t":2013.975,"z":-0.9},
{"t":2014.025,"z":0.8},{"t":2014.075,"z":-1.1},{"t":2014.125,"z":1.2},{"t":2014.175,"z":-0.5},{"t":2014.225,"z":0.7},{"t":2014.275,"z":-1.2},{"t":2014.325,"z":1.0},{"t":2014.375,"z":0.4},{"t":2014.425,"z":-0.9},{"t":2014.475,"z":1.3},{"t":2014.525,"z":-0.7},{"t":2014.575,"z":0.9},{"t":2014.625,"z":-1.1},{"t":2014.675,"z":0.6},{"t":2014.725,"z":1.1},{"t":2014.775,"z":-0.8},{"t":2014.825,"z":0.5},{"t":2014.875,"z":-1.3},{"t":2014.925,"z":1.2},{"t":2014.975,"z":-0.6},
{"t":2015.025,"z":1.1},{"t":2015.075,"z":-0.8},{"t":2015.125,"z":0.5},{"t":2015.175,"z":-1.2},{"t":2015.225,"z":1.3},{"t":2015.275,"z":-0.6},{"t":2015.325,"z":0.9},{"t":2015.375,"z":-1.0},{"t":2015.425,"z":1.2},{"t":2015.475,"z":0.4},{"t":2015.525,"z":-1.1},{"t":2015.575,"z":0.7},{"t":2015.625,"z":-0.9},{"t":2015.675,"z":1.3},{"t":2015.725,"z":-0.5},{"t":2015.775,"z":0.8},{"t":2015.825,"z":-1.2},{"t":2015.875,"z":1.0},{"t":2015.925,"z":1.4},{"t":2015.975,"z":-0.7},
{"t":2016.025,"z":-1.2},{"t":2016.075,"z":0.9},{"t":2016.125,"z":-0.7},{"t":2016.175,"z":1.3},{"t":2016.225,"z":-1.0},{"t":2016.275,"z":0.6},{"t":2016.325,"z":1.2},{"t":2016.375,"z":-0.9},{"t":2016.425,"z":0.5},{"t":2016.475,"z":-1.3},{"t":2016.525,"z":1.1},{"t":2016.575,"z":-0.6},{"t":2016.625,"z":0.8},{"t":2016.675,"z":1.3},{"t":2016.725,"z":-1.1},{"t":2016.775,"z":0.7},{"t":2016.825,"z":-0.8},{"t":2016.875,"z":1.2},{"t":2016.925,"z":-1.0},{"t":2016.975,"z":0.6},
{"t":2017.025,"z":0.9},{"t":2017.075,"z":-1.0},{"t":2017.125,"z":1.2},{"t":2017.175,"z":-0.6},{"t":2017.225,"z":0.8},{"t":2017.275,"z":-1.2},{"t":2017.325,"z":1.1},{"t":2017.375,"z":0.5},{"t":2017.425,"z":-0.9},{"t":2017.475,"z":1.3},{"t":2017.525,"z":-0.7},{"t":2017.575,"z":1.0},{"t":2017.625,"z":-1.1},{"t":2017.675,"z":0.6},{"t":2017.725,"z":-0.5},{"t":2017.775,"z":1.2},{"t":2017.825,"z":-1.0},{"t":2017.875,"z":0.9},{"t":2017.925,"z":-0.8},{"t":2017.975,"z":1.1},
{"t":2018.025,"z":-0.8},{"t":2018.075,"z":1.2},{"t":2018.125,"z":-1.1},{"t":2018.175,"z":0.7},{"t":2018.225,"z":1.3},{"t":2018.275,"z":-0.9},{"t":2018.325,"z":1.0},{"t":2018.375,"z":-1.3},{"t":2018.425,"z":0.6},{"t":2018.475,"z":1.2},{"t":2018.525,"z":-1.0},{"t":2018.575,"z":0.8},{"t":2018.625,"z":-1.4},{"t":2018.675,"z":1.5},{"t":2018.725,"z":-0.7},{"t":2018.775,"z":1.1},{"t":2018.825,"z":-1.2},{"t":2018.875,"z":1.3},{"t":2018.925,"z":-0.9},{"t":2018.975,"z":1.0},
{"t":2019.025,"z":-1.3},{"t":2019.075,"z":1.5},{"t":2019.125,"z":-1.6},{"t":2019.175,"z":1.9},{"t":2019.225,"z":-2.0},{"t":2019.275,"z":2.3},{"t":2019.325,"z":-1.8},{"t":2019.375,"z":1.7},{"t":2019.425,"z":-1.5},{"t":2019.475,"z":2.0},{"t":2019.525,"z":-1.2},{"t":2019.575,"z":1.8},{"t":2019.625,"z":-1.6},{"t":2019.675,"z":1.4},{"t":2019.725,"z":-1.9},{"t":2019.775,"z":1.6},{"t":2019.825,"z":-1.1},{"t":2019.875,"z":2.1},{"t":2019.925,"z":-1.4},{"t":2019.975,"z":1.3},
{"t":2020.025,"z":-1.6},{"t":2020.075,"z":1.9},{"t":2020.125,"z":-1.2},{"t":2020.175,"z":1.5},{"t":2020.225,"z":-2.0},{"t":2020.275,"z":1.3},{"t":2020.325,"z":-1.4},{"t":2020.375,"z":1.8},{"t":2020.425,"z":-1.1},{"t":2020.475,"z":1.6},{"t":2020.525,"z":-1.5},{"t":2020.575,"z":1.2},{"t":2020.625,"z":-1.7},{"t":2020.675,"z":1.9},{"t":2020.725,"z":-1.0},{"t":2020.775,"z":1.4},{"t":2020.825,"z":-1.3},{"t":2020.875,"z":1.7},{"t":2020.925,"z":-1.6},{"t":2020.975,"z":1.1},
{"t":2021.025,"z":1.5},{"t":2021.075,"z":-1.3},{"t":2021.125,"z":1.2},{"t":2021.175,"z":-1.6},{"t":2021.225,"z":1.4},{"t":2021.275,"z":-0.9},{"t":2021.325,"z":1.7},{"t":2021.375,"z":-1.2},{"t":2021.425,"z":1.1},{"t":2021.475,"z":-1.5},{"t":2021.525,"z":1.3},{"t":2021.575,"z":-1.0},{"t":2021.625,"z":1.6},{"t":2021.675,"z":-1.4},{"t":2021.725,"z":0.9},{"t":2021.775,"z":1.2},{"t":2021.825,"z":-1.3},{"t":2021.875,"z":1.5},{"t":2021.925,"z":-1.1},{"t":2021.975,"z":1.0},
{"t":2022.025,"z":1.3},{"t":2022.075,"z":-1.4},{"t":2022.125,"z":1.1},{"t":2022.175,"z":-1.0},{"t":2022.225,"z":1.5},{"t":2022.275,"z":-1.2},{"t":2022.325,"z":0.9},{"t":2022.375,"z":1.4},{"t":2022.425,"z":-1.5},{"t":2022.475,"z":1.2},{"t":2022.525,"z":-0.8},{"t":2022.575,"z":1.3},{"t":2022.625,"z":-1.1},{"t":2022.675,"z":1.0},{"t":2022.725,"z":-1.3},{"t":2022.775,"z":1.4},{"t":2022.825,"z":-0.9},{"t":2022.875,"z":1.2},{"t":2022.925,"z":-1.4},{"t":2022.975,"z":1.1},
{"t":2023.025,"z":-1.0},{"t":2023.075,"z":1.2},{"t":2023.125,"z":-0.8},{"t":2023.175,"z":1.3},{"t":2023.225,"z":-1.1},{"t":2023.275,"z":0.9},{"t":2023.325,"z":-1.2},{"t":2023.375,"z":1.0},{"t":2023.425,"z":0.7},{"t":2023.475,"z":-1.0}
],
"latest": [{"t":2023.55,"z":6.4}]
},
"layer": [
{"data": {"values": [{}]}, "mark": {"type": "rect", "x": 517, "x2": 539, "y": 347, "y2": 368, "color": "#a8c8e4"}},
{"data": {"name": "z"},
 "mark": {"type": "rule", "color": "#0c2766", "opacity": 0.55, "strokeWidth": 1},
 "encoding": {
  "x": {"field": "t", "type": "quantitative",
        "scale": {"domain": [1988, 2024.48], "nice": false, "zero": false},
        "axis": {"values": [1988,1990,1992,1994,1996,1998,2000,2002,2004,2006,2008,2010,2012,2014,2016,2018,2020,2022,2024],
                 "labelExpr": "substring(toString(datum.value), 2)", "domain": false, "ticks": false, "grid": false,
                 "labelFontSize": 20, "labelColor": "#1a1a1a", "labelPadding": 20, "title": null,
                 "labelFlush": false, "labelOverlap": false, "zindex": 1}},
  "y": {"field": "z", "type": "quantitative",
        "scale": {"domain": [-10, 8], "nice": false},
        "axis": {"values": [-10,-8,-6,-4,-2,0,2,4,6,8], "labelExpr": "toString(datum.value)", "domain": false, "ticks": false, "grid": false,
                 "labelFontSize": 20, "labelColor": "#1a1a1a", "labelPadding": 21, "title": null, "labelOverlap": false, "labelFlush": false}},
  "y2": {"datum": 0}
 }},
{"data": {"name": "latest"},
 "mark": {"type": "rule", "color": "#e0001b", "strokeWidth": 1.5},
 "encoding": {
  "x": {"field": "t", "type": "quantitative",
        "axis": {"values": [1988,1990,1992,1994,1996,1998,2000,2002,2004,2006,2008,2010,2012,2014,2016,2018,2020,2022,2024],
                 "labelExpr": "substring(toString(datum.value), 2)", "domain": false, "ticks": false, "grid": false,
                 "labelFontSize": 20, "labelColor": "#1a1a1a", "labelPadding": 20, "title": null,
                 "labelFlush": false, "labelOverlap": false, "zindex": 1}},
  "y": {"field": "z", "type": "quantitative",
        "axis": {"values": [-10,-8,-6,-4,-2,0,2,4,6,8], "labelExpr": "toString(datum.value)", "domain": false, "ticks": false, "grid": false,
                 "labelFontSize": 20, "labelColor": "#1a1a1a", "labelPadding": 21, "title": null, "labelOverlap": false, "labelFlush": false}},
  "y2": {"datum": 0}}},
{"data": {"values": [{}]}, "mark": {"type": "rule", "color": "#000000", "strokeWidth": 2},
 "encoding": {"y": {"datum": 0, "type": "quantitative",
        "axis": {"values": [-10,-8,-6,-4,-2,0,2,4,6,8], "labelExpr": "toString(datum.value)", "domain": false, "ticks": false, "grid": false,
                 "labelFontSize": 20, "labelColor": "#1a1a1a", "labelPadding": 21, "title": null, "labelOverlap": false, "labelFlush": false}}}},
{"data": {"values": [{"s": "Z-score of 5-day move in RTY vs. SPX (rolling 10yrs)"}]},
 "mark": {"type": "text", "x": 250, "y": 10, "align": "center", "baseline": "alphabetic", "font": "Lato", "fontSize": 20, "color": "#1a1a1a"},
 "encoding": {"text": {"field": "s"}}},
{"data": {"values": [{}]}, "mark": {"type": "rect", "x": -76, "x2": -65, "y": -130, "y2": -48, "color": "#0a52cc"}},
{"data": {"values": [{"s": "Exhibit 4: The post-CPI rotation into RTY was a six-sigma event"}]},
 "mark": {"type": "text", "x": -52, "y": -106, "align": "left", "baseline": "alphabetic", "font": "Lato", "fontWeight": "bold", "fontSize": 19.4, "color": "#111111"},
 "encoding": {"text": {"field": "s"}}},
{"data": {"values": [{"s": ["Z-score of 5-day move in RTY vs. SPX based on rolling 10-yr history (1988-", "present)"]}]},
 "mark": {"type": "text", "x": -52, "y": -78, "align": "left", "baseline": "alphabetic", "font": "Lato", "fontSize": 17.2, "lineHeight": 24, "color": "#333333"},
 "encoding": {"text": {"field": "s"}}},
{"data": {"values": [{"s": "Source:"}]},
 "mark": {"type": "text", "x": -52, "y": 397, "align": "left", "baseline": "alphabetic", "font": "Lato", "fontWeight": "bold", "fontSize": 15, "color": "#111111"},
 "encoding": {"text": {"field": "s"}}},
{"data": {"values": [{"s": "BofA Global Research, Bloomberg"}]},
 "mark": {"type": "text", "x": 2, "y": 397, "align": "left", "baseline": "alphabetic", "font": "Lato", "fontSize": 14.3, "color": "#222222"},
 "encoding": {"text": {"field": "s"}}},
{"data": {"values": [{"s": "BofA GLOBAL RESEARCH"}]},
 "mark": {"type": "text", "x": 557, "y": 420, "align": "right", "baseline": "alphabetic", "font": "Lato", "fontSize": 13.4, "color": "#808080"},
 "encoding": {"text": {"field": "s"}}}
]
}
